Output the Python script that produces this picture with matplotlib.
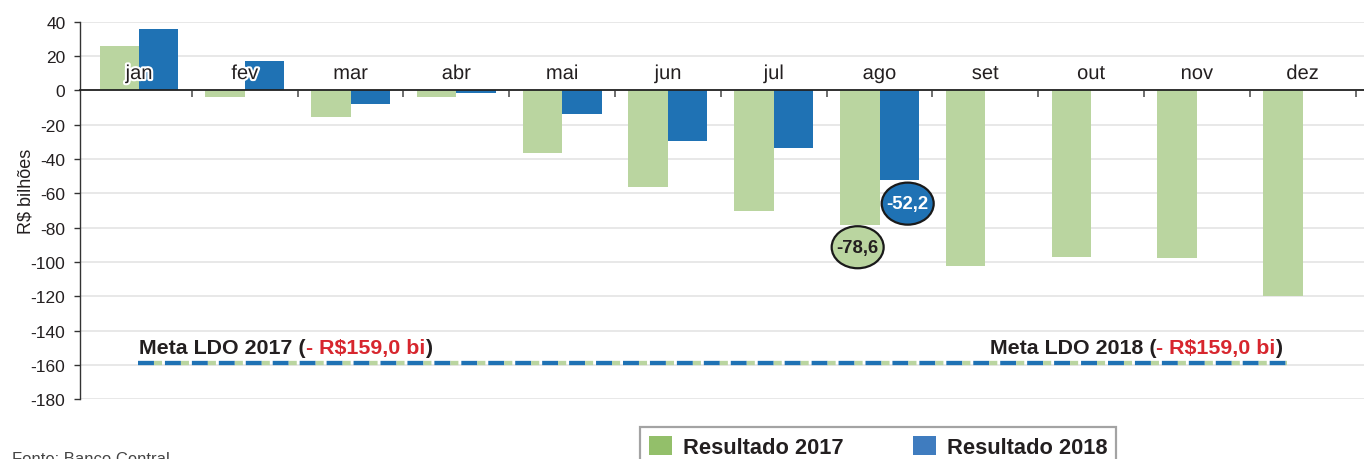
import matplotlib
matplotlib.use("Agg")
import matplotlib.pyplot as plt
import matplotlib.patheffects as pe
import matplotlib.transforms as mtrans
from matplotlib.patches import Ellipse, Patch
import numpy as np

plt.rcParams['font.family'] = ['Liberation Sans', 'DejaVu Sans']
plt.rcParams['lines.scale_dashes'] = False

months = ["jan", "fev", "mar", "abr", "mai", "jun", "jul", "ago", "set", "out", "nov", "dez"]
res_2017 = [25.8, -3.7, -15.4, -3.7, -36.4, -56.2, -70.2, -78.6, -102.3, -97.1, -97.7, -119.8]
res_2018 = [35.7, 17.0, -8.0, -1.4, -13.6, -29.4, -33.5, -52.2]
meta_2017 = -159.0
meta_2018 = -159.0
yticks = [40, 20, 0, -20, -40, -60, -80, -100, -120, -140, -160, -180]
label_2017 = "Resultado 2017"
label_2018 = "Resultado 2018"

GREEN_BAR = "#bad5a0"
BLUE_BAR = "#1f72b4"
GREEN_LEG = "#93bf6a"
BLUE_LEG = "#3f7cbf"
DARK = "#231f20"
RED = "#d7262e"

W, H = 1364, 460
fig = plt.figure(figsize=(W / 100, H / 100), dpi=100)
ax = fig.add_axes([80 / W, 1 - 400.3 / H, (W - 80) / W, 377.6 / H])

x = np.arange(len(months))
bw = 0.373
ax.bar(x - bw / 2, res_2017, width=bw, color=GREEN_BAR, zorder=2)
x18 = np.arange(len(res_2018))
ax.bar(x18 + bw / 2, res_2018, width=bw, color=BLUE_BAR, zorder=2)

ax.set_xlim(-0.558, 11.58)
ax.set_ylim(-180, 40)
ax.set_yticks(yticks)
ax.set_yticklabels([str(v) for v in yticks], fontsize=12.5, color=DARK)
ax.grid(axis='y', color="#e6e6e6", linewidth=1.3, zorder=0)
ax.set_axisbelow(True)

for s in ['top', 'right']:
    ax.spines[s].set_visible(False)
ax.spines['left'].set_color("#333333")
ax.spines['left'].set_linewidth(1.0)
ax.spines['bottom'].set_position(('data', 0))
ax.spines['bottom'].set_color("#222222")
ax.spines['bottom'].set_linewidth(1.3)
ax.spines['bottom'].set_zorder(3)
ax.set_xticks(np.arange(len(months)) + 0.5)
ax.set_xticklabels([])
ax.tick_params(axis='x', direction='out', length=5, width=1.2, color="#555555")
ax.tick_params(axis='y', direction='out', length=4.5, width=1.0, color="#333333", pad=6)

for i, m in enumerate(months):
    ax.text(i, 6.6, m, ha='center', va='baseline', fontsize=14.5, color=DARK, zorder=5,
            path_effects=[pe.withStroke(linewidth=3, foreground='white')])

# Meta LDO dashed line
xs = [-0.005, 10.85]
ax.plot(xs, [meta_2017, meta_2018], color=BLUE_BAR, linewidth=3.1,
        linestyle=(0, (11.5, 7.9)), dash_capstyle='butt', zorder=4)
ax.plot(xs, [meta_2017, meta_2018], color=GREEN_BAR, linewidth=3.1,
        linestyle=(7.9, (5.8, 13.6)), dash_capstyle='butt', zorder=4)

renderer = fig.canvas.get_renderer()

def meta_text(xpos, year, val, ha):
    parts = [(f"Meta LDO {year} (", DARK),
             (f"- R${abs(val):.1f} bi".replace('.', ','), RED),
             (")", DARK)]
    kw = dict(fontsize=15.4, fontweight='bold', va='baseline', ha='left', zorder=5)
    y = val + 6.2
    objs = []
    widths = []
    for s, c in parts:
        t = ax.text(xpos, y, s, color=c, **kw)
        widths.append(t.get_window_extent(renderer).width)
        objs.append(t)
    total = sum(widths)
    start = 0.0 if ha == 'left' else -total
    off = start
    for t, w in zip(objs, widths):
        t.set_transform(ax.transData + mtrans.ScaledTranslation(off / fig.dpi, 0, fig.dpi_scale_trans))
        off += w

meta_text(0.0, 2017, meta_2017, 'left')
meta_text(10.81, 2018, meta_2018, 'right')

# Value callouts for August
ia = 7
ex, ey = 52 / 105.8, 42 / 1.715
e1 = Ellipse((ia - bw / 2 - 0.02, res_2017[ia] - 12.8), ex, ey, facecolor=GREEN_BAR,
             edgecolor="#1a1a1a", linewidth=1.6, zorder=6)
e2 = Ellipse((ia + bw / 2 + 0.08, res_2018[ia] - 13.8), ex, ey, facecolor=BLUE_BAR,
             edgecolor="#1a1a1a", linewidth=1.6, zorder=6)
ax.add_patch(e1)
ax.add_patch(e2)
ax.text(e1.center[0], e1.center[1], f"{res_2017[ia]:.1f}".replace('.', ','), ha='center', va='center',
        fontsize=13.3, fontweight='bold', color=DARK, zorder=7)
ax.text(e2.center[0], e2.center[1], f"{res_2018[ia]:.1f}".replace('.', ','), ha='center', va='center',
        fontsize=13.3, fontweight='bold', color='white', zorder=7)

fig.text(26 / W, 1 - 191 / H, "R$ bilhões", rotation=90, ha='center', va='center',
         fontsize=13, color=DARK)

fig.text(12 / W, 1 - 452 / H, "Fonte: Banco Central", ha='left', va='top', fontsize=12, color="#444444")

handles = [Patch(facecolor=GREEN_LEG, edgecolor='none', label=label_2017),
           Patch(facecolor=BLUE_LEG, edgecolor='none', label=label_2018)]
leg = fig.legend(handles=handles, loc='upper left', bbox_to_anchor=(640 / W, 1 - 428 / H),
                 ncol=2, frameon=True, fancybox=False, borderaxespad=0,
                 prop={'weight': 'bold', 'size': 15.75},
                 handlelength=1.05, handleheight=1.0, handletextpad=0.5, columnspacing=3.2,
                 borderpad=0.4)
leg.get_frame().set_edgecolor("#8c8c8c")
leg.get_frame().set_linewidth(1.6)
for t in leg.get_texts():
    t.set_color(DARK)

fig.savefig("out.png", dpi=100)
